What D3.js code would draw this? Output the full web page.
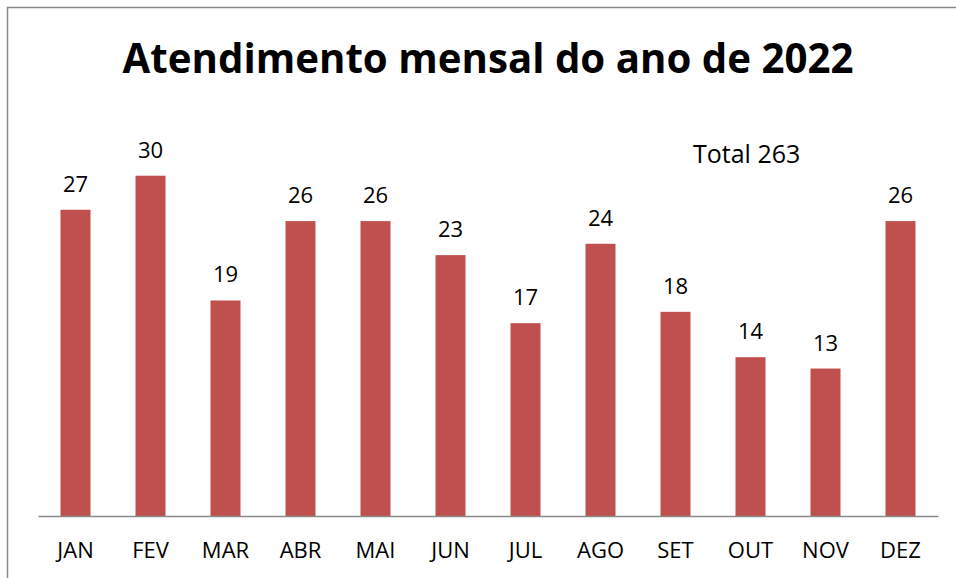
<!DOCTYPE html>
<html>
<head>
<meta charset="utf-8">
<script src="https://cdn.jsdelivr.net/npm/d3@7"></script>
<style>
  body { margin: 0; background: #fff; }
  svg { display: block; }
  text { font-family: "Open Sans", sans-serif; fill: #000; }
</style>
</head>
<body>
<script>
'use strict';

var months = ["JAN", "FEV", "MAR", "ABR", "MAI", "JUN", "JUL", "AGO", "SET", "OUT", "NOV", "DEZ"];
var counts = [27, 30, 19, 26, 26, 23, 17, 24, 18, 14, 13, 26];
var title  = "Atendimento mensal do ano de 2022";
var totalLabel = "Total 263";
var yMax = 35;

var W = 956, H = 578,
    plot = {left: 38, right: 938, top: 119, bottom: 516};

var svg = d3.select("body").append("svg")
    .attr("width", W)
    .attr("height", H);

// chart frame (only top and left edges show inside the window)
svg.append("rect")
    .attr("x", 7.5).attr("y", 7.5)
    .attr("width", 1000).attr("height", 1000)
    .style("fill", "none")
    .style("stroke", "#8a8a8a")
    .style("stroke-width", 1.5);

var x = d3.scaleBand().domain(months)
        .range([plot.left, plot.right])
        .paddingInner(0.6).paddingOuter(0.3),
    y = d3.scaleLinear().domain([0, yMax]).range([plot.bottom, plot.top]);

// title, sized to fill the same width as the original
var t = svg.append("text")
    .text(title)
    .attr("x", (plot.left + plot.right) / 2)
    .attr("y", 73)
    .attr("text-anchor", "middle")
    .style("font-weight", "bold")
    .style("font-size", "42px");
var tw = t.node().getComputedTextLength();
t.style("font-size", Math.min(42, 42 * 731 / tw) + "px");

// bars
svg.append("g").selectAll("rect")
    .data(counts)
    .enter().append("rect")
        .attr("x", function(d, i){ return x(months[i]); })
        .attr("width", x.bandwidth())
        .attr("y", function(d){ return y(d); })
        .attr("height", function(d){ return y(0) - y(d); })
        .style("fill", "#c0504d");

// value labels
svg.append("g").selectAll("text")
    .data(counts)
    .enter().append("text")
        .attr("x", function(d, i){ return x(months[i]) + x.bandwidth() / 2; })
        .attr("y", function(d){ return y(d) - 18; })
        .attr("text-anchor", "middle")
        .style("font-size", "22px")
        .text(function(d){ return d; });

// x axis
var xAxis = d3.axisBottom(x).tickSize(0);
var ax = svg.append("g")
    .attr("transform", "translate(0," + plot.bottom + ")")
    .call(xAxis);
ax.select(".domain")
    .style("stroke", "#8a8a8a")
    .style("stroke-width", 1.5);
ax.selectAll("text")
    .attr("y", 42)
    .attr("dy", null)
    .style("font-family", "'Open Sans', sans-serif")
    .style("font-size", "22px")
    .style("fill", "#000");

// total note
svg.append("text")
    .text(totalLabel)
    .attr("x", 693)
    .attr("y", 163)
    .style("font-size", "25px");
</script>
</body>
</html>
